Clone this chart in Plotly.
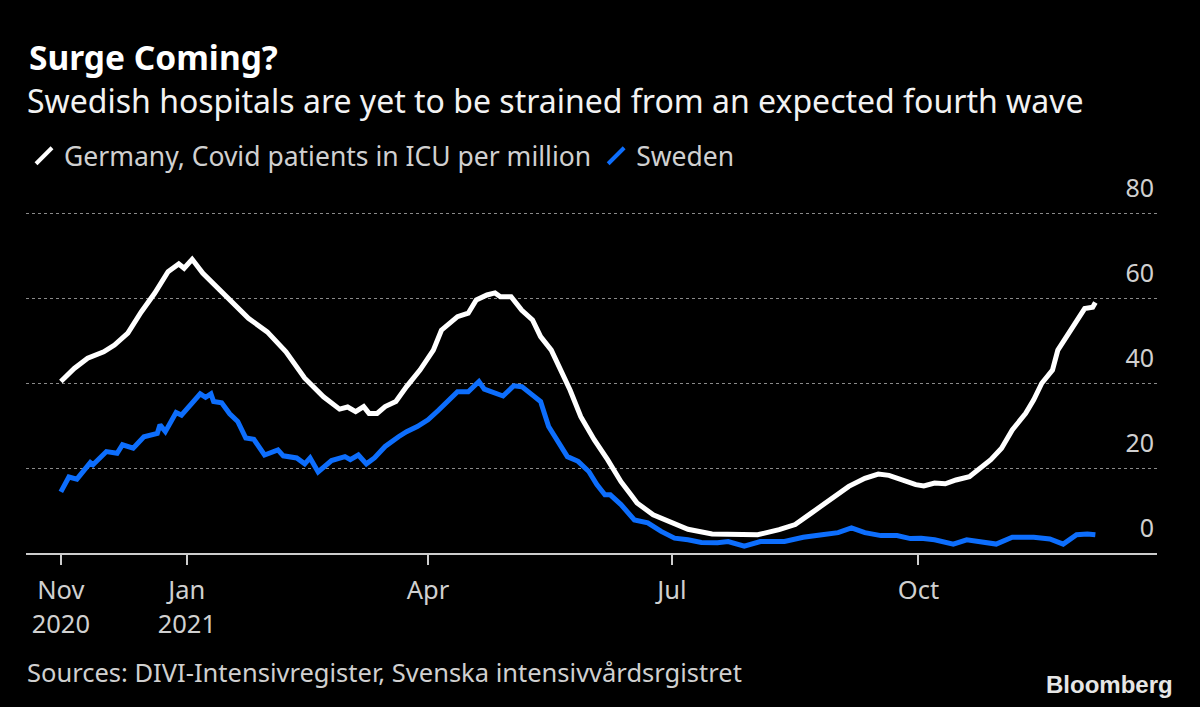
import plotly.graph_objects as go

# ---- data ----
germany_dates = [
    "2020-11-15", "2020-11-20", "2020-11-25", "2020-12-01", "2020-12-05", "2020-12-10",
    "2020-12-15", "2020-12-20", "2020-12-25", "2020-12-29", "2020-12-31", "2021-01-03",
    "2021-01-07", "2021-01-12", "2021-01-17", "2021-01-24", "2021-01-31", "2021-02-07",
    "2021-02-14", "2021-02-21", "2021-02-27", "2021-03-02", "2021-03-05", "2021-03-08",
    "2021-03-10", "2021-03-13", "2021-03-16", "2021-03-20", "2021-03-24", "2021-03-29",
    "2021-04-03", "2021-04-06", "2021-04-12", "2021-04-16", "2021-04-19", "2021-04-23",
    "2021-04-26", "2021-04-28", "2021-05-02", "2021-05-06", "2021-05-10", "2021-05-13",
    "2021-05-17", "2021-05-21", "2021-05-24", "2021-05-28", "2021-06-02", "2021-06-07",
    "2021-06-12", "2021-06-16", "2021-06-18", "2021-06-24", "2021-07-01", "2021-07-07",
    "2021-07-16", "2021-07-23", "2021-08-02", "2021-08-10", "2021-08-16", "2021-08-22",
    "2021-08-28", "2021-09-05", "2021-09-11", "2021-09-16", "2021-09-20", "2021-09-25",
    "2021-09-30", "2021-10-03", "2021-10-07", "2021-10-11", "2021-10-15", "2021-10-20",
    "2021-10-23", "2021-10-28", "2021-11-01", "2021-11-05", "2021-11-10", "2021-11-13",
    "2021-11-16", "2021-11-20", "2021-11-22", "2021-11-26", "2021-11-30", "2021-12-02",
    "2021-12-05", "2021-12-06",
]
germany_values = [
    40.4, 43.5, 45.9, 47.4, 49.0, 51.8,
    56.8, 61.2, 66.3, 68.1, 67.1, 69.2,
    65.9, 62.7, 59.6, 55.3, 52.1, 47.4,
    41.2, 36.8, 33.9, 34.4, 33.3, 34.5,
    32.9, 32.9, 34.5, 35.7, 39.2, 43.1,
    47.8, 52.5, 55.7, 56.5, 59.6, 60.8,
    61.3, 60.4, 60.4, 57.2, 54.9, 51.0,
    47.8, 42.4, 38.4, 32.1, 26.7, 22.0,
    16.8, 13.5, 11.8, 9.0, 7.1, 5.6,
    4.5, 4.3, 4.3, 5.5, 6.7, 9.4,
    12.1, 15.7, 17.6, 18.6, 18.3, 17.1,
    16.1, 15.8, 16.5, 16.3, 17.2, 18.0,
    19.6, 22.0, 24.7, 29.0, 32.9, 36.1,
    40.0, 43.1, 47.8, 51.8, 55.7, 57.6,
    57.9, 59.0,
]

sweden_dates = [
    "2020-11-15", "2020-11-16", "2020-11-18", "2020-11-21", "2020-11-23", "2020-11-26",
    "2020-11-27", "2020-11-30", "2020-12-02", "2020-12-06", "2020-12-08", "2020-12-12",
    "2020-12-16", "2020-12-21", "2020-12-22", "2020-12-24", "2020-12-28", "2020-12-30",
    "2021-01-03", "2021-01-06", "2021-01-08", "2021-01-10", "2021-01-11", "2021-01-14",
    "2021-01-17", "2021-01-20", "2021-01-23", "2021-01-26", "2021-01-30", "2021-02-01",
    "2021-02-04", "2021-02-06", "2021-02-11", "2021-02-14", "2021-02-16", "2021-02-19",
    "2021-02-24", "2021-03-01", "2021-03-03", "2021-03-06", "2021-03-09", "2021-03-12",
    "2021-03-16", "2021-03-21", "2021-03-24", "2021-03-28", "2021-04-01", "2021-04-05",
    "2021-04-10", "2021-04-12", "2021-04-16", "2021-04-20", "2021-04-22", "2021-04-26",
    "2021-04-29", "2021-05-03", "2021-05-06", "2021-05-10", "2021-05-13", "2021-05-16",
    "2021-05-19", "2021-05-23", "2021-05-27", "2021-05-31", "2021-06-03", "2021-06-06",
    "2021-06-08", "2021-06-12", "2021-06-17", "2021-06-22", "2021-06-27", "2021-07-02",
    "2021-07-07", "2021-07-12", "2021-07-18", "2021-07-22", "2021-07-28", "2021-08-03",
    "2021-08-12", "2021-08-19", "2021-08-26", "2021-09-01", "2021-09-06", "2021-09-11",
    "2021-09-17", "2021-09-23", "2021-09-28", "2021-10-02", "2021-10-07", "2021-10-14",
    "2021-10-19", "2021-10-24", "2021-10-30", "2021-11-05", "2021-11-13", "2021-11-19",
    "2021-11-24", "2021-11-29", "2021-12-03", "2021-12-06",
]
sweden_values = [
    14.4, 15.7, 17.9, 17.4, 18.8, 21.3,
    20.8, 22.7, 23.9, 23.5, 25.5, 24.7,
    27.4, 28.2, 30.2, 28.6, 33.1, 32.5,
    35.3, 37.5, 36.7, 37.5, 35.7, 35.4,
    32.8, 31.0, 27.1, 26.8, 23.1, 23.5,
    24.3, 22.9, 22.4, 21.0, 22.4, 19.1,
    21.8, 22.7, 22.0, 23.1, 21.0, 22.4,
    25.1, 27.4, 28.6, 29.8, 31.4, 33.7,
    36.8, 38.0, 38.0, 40.4, 38.6, 37.8,
    37.0, 39.4, 39.2, 37.2, 35.7, 29.8,
    26.7, 22.7, 21.6, 19.2, 16.1, 13.7,
    13.7, 11.4, 7.8, 7.1, 5.1, 3.5,
    3.1, 2.5, 2.4, 2.7, 1.6, 2.7,
    2.7, 3.7, 4.3, 4.8, 5.9, 4.8,
    4.1, 4.1, 3.4, 3.5, 3.1, 2.1,
    3.1, 2.7, 2.1, 3.7, 3.7, 3.3,
    2.1, 4.3, 4.5, 4.3,
]

series_names = ["Germany, Covid patients in ICU per million", "Sweden"]
series_colors = ["#ffffff", "#0d6efd"]

x_tick_vals = ["2020-11-15", "2021-01-01", "2021-04-01", "2021-07-01", "2021-10-01"]
x_tick_text = ["Nov<br>2020", "Jan<br>2021", "Apr", "Jul", "Oct"]
y_tick_vals = [0, 20, 40, 60, 80]

title = "Surge Coming?"
subtitle = "Swedish hospitals are yet to be strained from an expected fourth wave"
source = "Sources: DIVI-Intensivregister, Svenska intensivvårdsrgistret"

FONT = "Noto Sans"
TXT = "#d0d0d0"

fig = go.Figure()

fig.add_trace(go.Scatter(x=germany_dates, y=germany_values, mode="lines",
                         line=dict(color=series_colors[0], width=5),
                         showlegend=False, hoverinfo="skip"))
fig.add_trace(go.Scatter(x=sweden_dates, y=sweden_values, mode="lines",
                         line=dict(color=series_colors[1], width=5),
                         showlegend=False, hoverinfo="skip"))

# legend-only entries with slash-shaped markers
for name, color in zip(series_names, series_colors):
    fig.add_trace(go.Scatter(x=[None], y=[None], mode="markers", name=name,
                             marker=dict(symbol="line-ne", size=18, color=color,
                                         line=dict(color=color, width=4))))

# plot area geometry (pixels)
L, R, T, B = 26, 43, 205, 154
W, H = 1200, 707
plot_h = H - T - B

def py(pix):
    return (H - B - pix) / plot_h

def px(pix):
    return (pix - L) / (W - L - R)

fig.update_layout(
    width=W, height=H,
    paper_bgcolor="#000000", plot_bgcolor="#000000",
    margin=dict(l=L, r=R, t=T, b=B),
    font=dict(family=FONT, color=TXT, size=25),
    showlegend=True,
    legend=dict(orientation="h", x=px(24), y=py(156), xanchor="left", yanchor="middle",
                font=dict(size=26.5, color=TXT, family=FONT), bgcolor="rgba(0,0,0,0)",
                itemwidth=30, tracegroupgap=0),
    xaxis=dict(
        range=["2020-11-02", "2021-12-29"],
        showgrid=False, zeroline=False,
        showline=True, linecolor="#cccccc", linewidth=1.5,
        ticks="outside", ticklen=10, tickcolor="#cccccc", tickwidth=1.5,
        tickvals=x_tick_vals, ticktext=x_tick_text,
        ticklabelstandoff=4,
        tickfont=dict(size=25.5, color=TXT, family=FONT),
    ),
    yaxis=dict(
        range=[0, 82], side="right",
        showgrid=True, gridcolor="#8a8a8a", griddash="dot", gridwidth=1.2,
        zeroline=False, showline=False, ticks="",
        tickvals=y_tick_vals,
        ticklabelposition="inside", ticklabelshift=-25, ticklabeloverflow="allow",
        tickfont=dict(size=25, color=TXT, family=FONT),
    ),
    annotations=[
        dict(text="<b>" + title + "</b>", x=px(27), y=py(57), xref="paper", yref="paper",
             xanchor="left", yanchor="middle", showarrow=False,
             font=dict(size=33.5, color="#ffffff", family=FONT)),
        dict(text=subtitle, x=px(25), y=py(100), xref="paper", yref="paper",
             xanchor="left", yanchor="middle", showarrow=False,
             font=dict(size=32, color="#f2f2f2", family=FONT)),
        dict(text=source, x=px(25), y=py(672), xref="paper", yref="paper",
             xanchor="left", yanchor="middle", showarrow=False,
             font=dict(size=25.5, color=TXT, family=FONT)),
        dict(text="<b>Bloomberg</b>", x=px(1175), y=py(684), xref="paper", yref="paper",
             xanchor="right", yanchor="middle", showarrow=False,
             font=dict(size=24, color="#e6e6e6", family="Liberation Sans")),
    ],
)

fig.write_html("out.html", config={"displayModeBar": False},
               post_script="document.body.style.margin='0';")
